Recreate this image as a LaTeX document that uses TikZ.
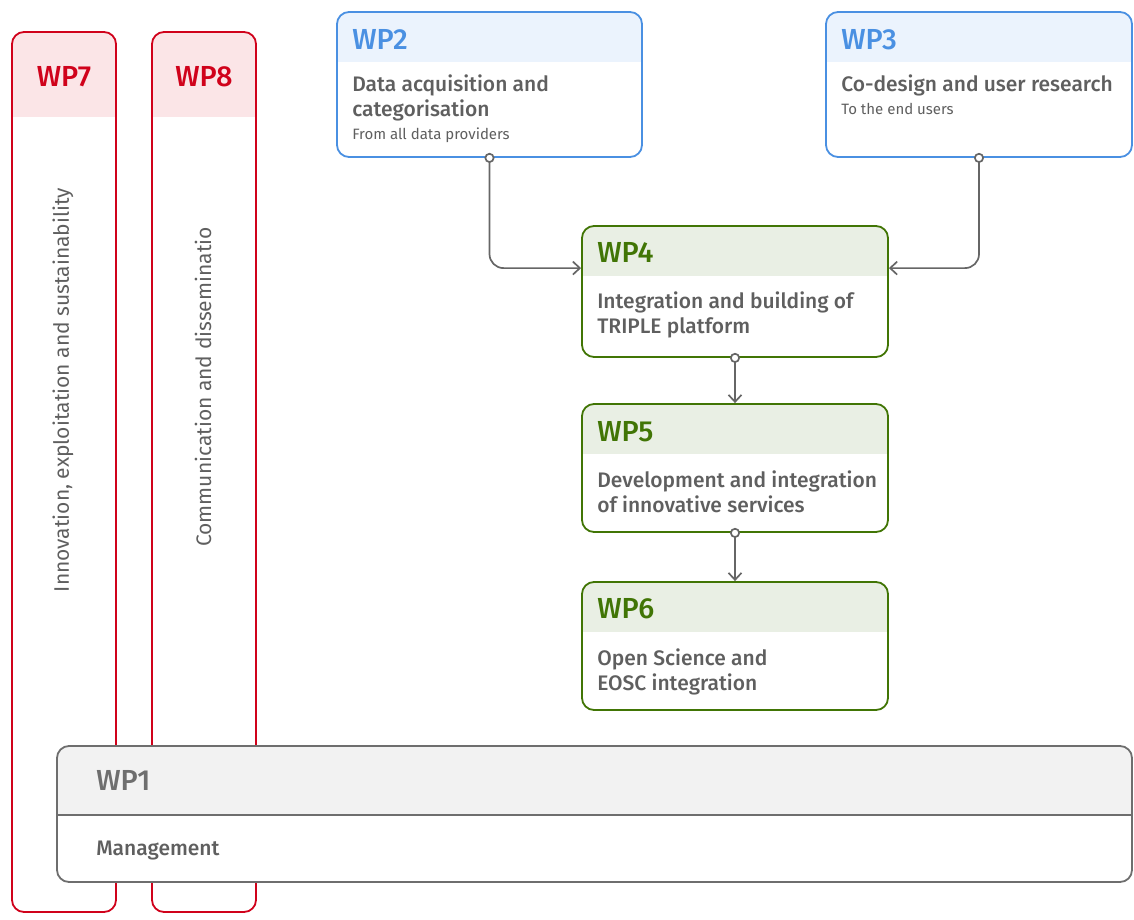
\documentclass[tikz,border=0pt]{standalone}
\usepackage{fontspec}
\setmainfont{Fira Sans}
\newfontfamily\medfont{Fira Sans Medium}
\usetikzlibrary{positioning,arrows.meta}
\definecolor{wpblue}{HTML}{4A90E2}
\definecolor{wpbluebg}{HTML}{EBF3FD}
\definecolor{wpred}{HTML}{D0021B}
\definecolor{wpredbg}{HTML}{FBE5E7}
\definecolor{wpgreen}{HTML}{417505}
\definecolor{wpgreenbg}{HTML}{E9EFE4}
\definecolor{wpgray}{HTML}{6E6E6E}
\definecolor{wpgraybg}{HTML}{F2F2F2}
\definecolor{txtgray}{HTML}{5F5F5F}
\definecolor{linkgray}{HTML}{666666}
\tikzset {
    wp box/.style n args={3}{
        draw=#1,
        fill=white,
        line width=1.8pt,
        rectangle, % box with a coloured header band
        rounded corners=12pt,
        inner sep=0pt,
        path picture={\fill[#2, sharp corners] ([xshift=-2pt, yshift=2pt]path picture bounding box.north west)
            rectangle ([xshift=2pt, yshift=-#3]path picture bounding box.north east);},
    },
    wp title/.style={
        font=\medfont\fontsize{29}{32}\selectfont,
        anchor=base west,
        inner sep=0pt,
    },
    wp text/.style={
        font=\medfont\fontsize{21}{25}\selectfont,
        text=txtgray,
        align=left,
        anchor=base west,
        inner sep=0pt,
    },
    wp note/.style={
        font=\fontsize{15}{18}\selectfont,
        text=txtgray,
        anchor=base west,
        inner sep=0pt,
    },
    wp side/.style={
        font=\fontsize{21}{24}\selectfont,
        text=txtgray,
        rotate=90,
        inner sep=0pt,
    },
    link/.style={
        draw=linkgray,
        line width=1.7pt,
        {Circle[open, fill=white, length=10pt]}-{Straight Barb[length=7pt, width=13pt]},
    },
}
\begin{document}
\begin{tikzpicture}[x=1pt, y=-1pt]
        \useasboundingbox (0,0) rectangle (1134,920);

        % side work packages
        \node[wp box={wpred}{wpredbg}{85pt}, minimum width=104pt, minimum height=880pt] (wp7) at (64,472) {};
        \node[wp box={wpred}{wpredbg}{85pt}, minimum width=104pt, minimum height=880pt] (wp8) at (204,472) {};
        \node[wp title, anchor=base, text=wpred] (wp7t) at ([yshift=-55pt]wp7.north) {WP7};
        \node[wp title, anchor=base, text=wpred] (wp8t) at ([yshift=-55pt]wp8.north) {WP8};
        \node[wp side] (wp7s) at (63,390) {Innovation, exploitation and sustainability};
        \node[wp side] (wp8s) at (203,387) {Communication and disseminatio};

        % management
        \node[wp box={wpgray}{wpgraybg}{70pt}, minimum width=1075pt, minimum height=136pt] (wp1) at (594.5,814) {};
        \draw[wpgray, line width=1.8pt] ([yshift=-70pt]wp1.north west) -- ([yshift=-70pt]wp1.north east);
        \node[wp title, text=wpgray] (wp1t) at ([xshift=40pt, yshift=-45pt]wp1.north west) {WP1};
        \node[wp text] (wp1x) at ([xshift=40pt, yshift=-110pt]wp1.north west) {Management};

        % data and users
        \node[wp box={wpblue}{wpbluebg}{50pt}, minimum width=305pt, minimum height=145pt] (wp2) at (489.5,84.5) {};
        \node[wp title, text=wpblue] (wp2t) at ([xshift=16pt, yshift=-38pt]wp2.north west) {WP2};
        \node[wp text] (wp2x) at ([xshift=16pt, yshift=-105pt]wp2.north west) {Data acquisition and\\categorisation};
        \node[wp note] (wp2n) at ([xshift=16pt, yshift=-128pt]wp2.north west) {From all data providers};

        \node[wp box={wpblue}{wpbluebg}{50pt}, minimum width=306pt, minimum height=145pt] (wp3) at (979,84.5) {};
        \node[wp title, text=wpblue] (wp3t) at ([xshift=16pt, yshift=-38pt]wp3.north west) {WP3};
        \node[wp text] (wp3x) at ([xshift=16pt, yshift=-80pt]wp3.north west) {Co-design and user research};
        \node[wp note] (wp3n) at ([xshift=16pt, yshift=-103pt]wp3.north west) {To the end users};

        % platform chain
        \node[wp box={wpgreen}{wpgreenbg}{50pt}, minimum width=306pt, minimum height=131pt] (wp4) at (735,291.5) {};
        \node[wp title, text=wpgreen] (wp4t) at ([xshift=16pt, yshift=-37pt]wp4.north west) {WP4};
        \node[wp text] (wp4x) at ([xshift=16pt, yshift=-108pt]wp4.north west) {Integration and building of\\TRIPLE platform};

        \node[wp box={wpgreen}{wpgreenbg}{50pt}, minimum width=306pt, minimum height=128pt] (wp5) at (735,468) {};
        \node[wp title, text=wpgreen] (wp5t) at ([xshift=16pt, yshift=-38pt]wp5.north west) {WP5};
        \node[wp text] (wp5x) at ([xshift=16pt, yshift=-109pt]wp5.north west) {Development and integration\\of innovative services};

        \node[wp box={wpgreen}{wpgreenbg}{50pt}, minimum width=306pt, minimum height=128pt] (wp6) at (735,646) {};
        \node[wp title, text=wpgreen] (wp6t) at ([xshift=16pt, yshift=-37pt]wp6.north west) {WP6};
        \node[wp text] (wp6x) at ([xshift=16pt, yshift=-109pt]wp6.north west) {Open Science and\\EOSC integration};

        \draw[link, rounded corners=14pt] ([yshift=5pt]wp2.south) |- ([yshift=-43pt]wp4.north west);
        \draw[link, rounded corners=14pt] ([yshift=5pt]wp3.south) |- ([yshift=-43pt]wp4.north east);
        \draw[link] ([yshift=5pt]wp4.south) -- (wp5.north);
        \draw[link] ([yshift=5pt]wp5.south) -- (wp6.north);
    \end{tikzpicture}
\end{document}
